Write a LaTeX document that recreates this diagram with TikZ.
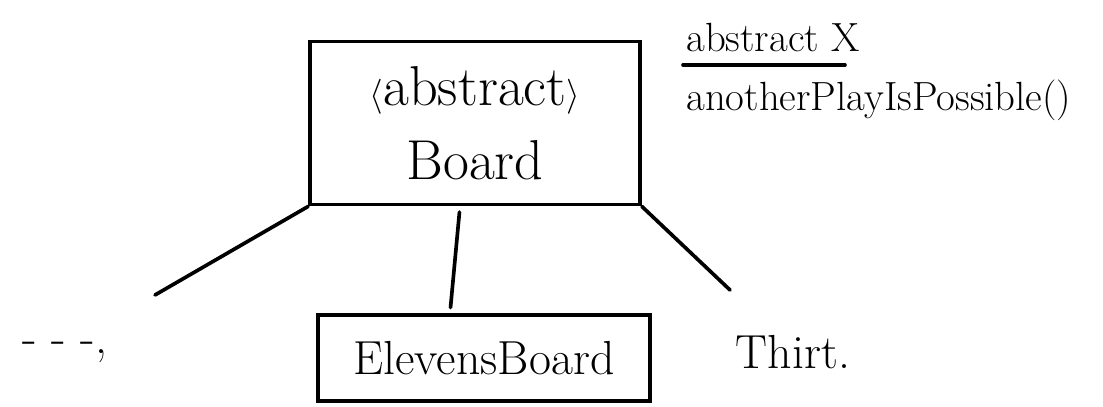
\documentclass[tikz,border=0pt]{standalone}
\usepackage{tikz}

\begin{document}
\begin{tikzpicture}[x=0.025cm, y=-0.025cm,
  every node/.style = {align=center},
  box/.style = {draw, line width=2.6pt},
  link/.style = {line width=2.6pt, line cap=round},
  big/.style = {font=\fontsize{40}{53}\selectfont},
  mid/.style = {font=\fontsize{34}{40}\selectfont},
  small/.style = {font=\fontsize{29}{34}\selectfont, inner sep=0pt}]

\useasboundingbox (0,0) rectangle (1103,407);

% classes
\node[box, big, minimum width=8.25cm, minimum height=4.08cm] (board) at (475,123)
	{$\langle$abstract$\rangle$\\ Board};
\node[box, mid, minimum width=8.3cm, minimum height=2.15cm] (elevens) at (484,358)
	{ElevensBoard};
\node[mid] (dots) at (65,352) {- - -,};
\node[mid] (thirt) at (793,352) {Thirt.};

% note on the side
\node[small, anchor=west] (tag) at (686,38) {abstract X};
\node[small, anchor=west] (method) at (686,100) {anotherPlayIsPossible()};
\draw[link] (683,65) -- (845,65);

% links
\coordinate (leftend) at (155,295);
\coordinate (rightend) at (730,290);
\draw[link] (board.south west) -- (leftend);
\draw[link, shorten <=4pt, shorten >=4pt] ([xshift=-0.375cm]board.south)
	-- ([xshift=-0.85cm]elevens.north);
\draw[link] (board.south east) -- (rightend);
\end{tikzpicture}
\end{document}
